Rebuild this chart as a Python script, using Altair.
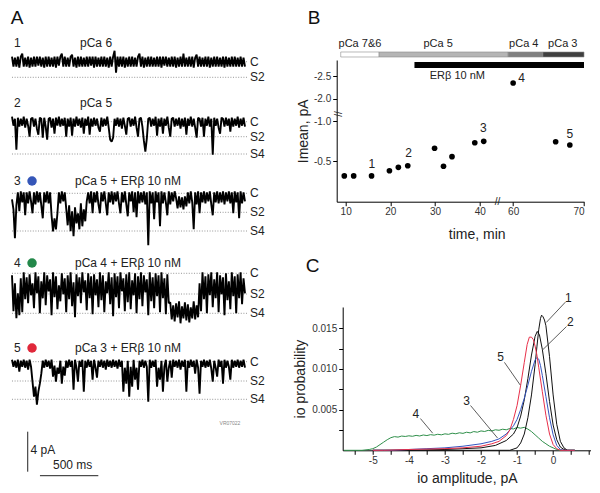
import altair as alt
import pandas as pd

FONT = "Liberation Sans"

# ============ Panel A: single-channel current traces (pA, C level = 0) ============
trace_dt_ms = 2000 / 159          # sampling interval of the displayed traces

trace1 = [
    0.5, -0.5, 0.4, -0.5, 0.5, -0.6, 0.5, 0.8, -0.5, 0.4, -0.5, 0.5, -0.6, 0.4, -0.5, 0.5, -0.5, 0.5, -0.4, 0.5,
    -0.5, 0.4, -0.6, 0.5, -0.5, 0.5, -0.5, 0.4, -0.5, 0.5, -0.6, 0.5, -0.4, 0.5, 0.8, -0.5, 0.5, -0.5, 0.4, -0.5,
    0.5, 0.7, -0.5, 0.4, -0.6, 0.5, -0.5, 0.5, -0.5, 0.4, -0.5, 0.5, -0.5, 0.5, -0.4, 0.5, -0.6, 0.5, -0.5, 0.4,
    -0.5, 0.5, -0.5, 0.5, -0.5, 0.4, -0.6, 0.5, -0.5, 0.5, 1.1, -1.1, 0.5, -0.5, 0.5, -0.5, 0.5, -0.6, 0.4, -0.5,
    0.5, -0.5, 0.5, -0.5, 0.4, -0.5, 0.5, 0.8, -0.5, 0.5, -0.6, 0.4, -0.5, 0.5, -0.5, 0.5, -0.5, 0.4, -0.5, 0.5,
    -0.5, 0.5, -0.6, 0.5, -0.4, 0.5, -0.5, 0.4, -0.5, 0.5, -0.5, 0.5, -0.6, 0.4, -0.5, 0.5, -0.5, 0.8, -0.5, 0.4,
    -0.5, 0.5, -0.5, 0.5, -0.6, 0.4, 0.7, -0.5, 0.5, -0.5, 0.4, -0.5, 0.5, -0.5, 0.5, -0.6, 0.4, -0.5, 0.5, -0.5,
    0.5, -0.5, 0.4, -0.5, 0.5, -0.6, 0.5, -0.5, 0.4, -0.5, 0.5, -0.5, 0.5, -0.5, 0.4, -0.5, 0.5, -0.5, 0.4, -0.5,
]
trace2 = [
    0.5, -0.4, 0.3, -2.8, 0.4, -0.5, 0.3, -0.4, 0.5, -0.6, 0.3, -0.4, -1.5, 0.3, 0.4, -0.5, 0.3, -0.7, -1.3, 0.4,
    0.3, -1.6, 0.4, -0.5, -1.8, 0.3, 0.4, -0.6, 0.3, -1.2, 0.4, -0.4, 0.5, -0.5, 0.3, -0.4, 0.4, -1.5, 0.3, -0.5,
    0.4, -1.4, 0.3, -0.5, 0.5, -0.4, 0.3, -0.6, 0.4, -1.2, 0.3, -0.4, 0.5, -1.3, 0.3, -0.5, 0.4, -0.4, 0.3, -0.6,
    -1.0, 0.4, -0.5, 0.3, -0.4, 0.5, -0.6, -1.8, -2.0, -1.6, 0.3, -0.4, 0.4, -0.5, 0.3, -0.7, 0.4, -0.4, -1.3, 0.3,
    0.4, -0.5, 0.3, -0.4, 0.5, -0.6, -1.5, 0.3, 0.4, -0.5, -1.9, -3.0, -1.7, 0.3, 0.4, -0.5, 0.3, -0.4, 0.5, -1.4,
    0.3, -0.5, 0.4, -1.2, 0.3, -0.4, 0.5, -0.6, -1.5, 0.3, 0.4, -0.5, 0.3, -0.4, 0.4, -0.7, 0.3, -0.5, 0.4, -1.3,
    0.3, -0.4, 0.5, -0.5, 0.3, -0.6, -1.6, 0.4, 0.3, -0.5, 0.4, -1.5, 0.3, -0.4, 0.5, -0.5, 0.3, -3.3, 0.4, -0.4,
    0.3, -0.6, -1.2, 0.4, 0.3, -0.5, 0.4, -0.4, 0.3, -1.0, 0.4, -0.5, 0.3, -0.4, 0.5, -0.6, 0.3, -0.4, 0.4, -0.5,
]
trace3 = [
    -0.6, -1.6, -4.5, -1.2, 0.1, -1.8, 0.2, -0.9, 0.1, -2.2, 0.1, -1.0, 0.2, -0.8, -2.0, 0.1, -1.1, 0.2, -0.9, 0.1,
    -1.2, -2.5, 0.1, -0.9, 0.2, -1.0, 0.1, -2.2, -3.8, -2.5, -3.6, -2.0, 0.1, -1.0, 0.2, -0.8, 0.1, -1.5, -3.2, -1.2,
    -3.8, -1.8, -4.3, -1.4, -3.0, -2.0, -3.6, -1.0, -3.3, -1.6, -2.8, -0.8, 0.1, -1.0, 0.2, -2.0, 0.1, -0.9, 0.2, -1.1,
    -2.0, 0.1, -0.8, 0.2, -1.0, -2.2, 0.1, -0.9, 0.2, -1.1, 0.1, -0.8, 0.2, -1.0, -2.0, 0.1, -0.9, 0.2, -1.1, -2.3,
    0.1, -0.8, 0.2, -1.9, 0.1, -2.4, 0.2, -1.0, 0.1, -0.9, 0.2, -1.1, 0.1, -5.2, 0.2, -1.0, 0.1, -2.6, 0.2, -0.9,
    0.1, -3.3, 0.2, -1.0, 0.1, -0.9, -2.2, 0.2, -1.1, 0.1, -0.8, 0.2, -0.5, -1.5, -0.3, -1.4, -0.4, -1.6, -0.3, -1.3,
    0.1, -1.0, 0.2, -0.9, -3.6, 0.1, -1.1, 0.2, -2.0, 0.1, -0.9, 0.2, -1.0, 0.1, -0.8, 0.2, -1.1, -2.2, 0.1, -0.9,
    0.2, -1.0, 0.1, -0.9, 0.2, -1.1, 0.1, -0.8, 0.2, -1.0, 0.1, -2.0, 0.2, -0.9, 0.1, -2.5, 0.2, -1.0, 0.1, -0.8,
]
trace4 = [
    -0.2, -3.8, -1.0, -4.5, -2.0, -4.2, -0.5, -3.9, 0.1, -2.6, -0.4, -3.0, -0.1, -2.2, -1.0, -3.5, 0.1, -2.0, -0.3, -4.0,
    -0.8, -2.5, 0.1, -3.2, -0.2, -1.8, -0.6, -4.2, 0.1, -2.4, -0.3, -3.6, -1.2, -2.8, 0.0, -2.1, -0.5, -3.9, -0.2, -2.6,
    0.1, -3.3, -0.9, -4.4, -0.1, -2.3, -0.4, -3.0, 0.1, -1.9, -0.7, -3.7, 0.0, -2.5, -0.3, -4.1, -0.1, -2.2, -0.6, -3.4,
    0.1, -2.7, -0.2, -3.9, -0.8, -2.0, 0.1, -3.1, -0.4, -4.3, 0.0, -2.4, -0.3, -3.5, 0.1, -1.8, -0.5, -3.8, -0.1, -2.9,
    0.1, -3.6, -0.7, -2.2, 0.0, -4.0, -0.3, -2.6, 0.1, -3.3, -0.2, -1.9, -0.6, -4.2, 0.1, -2.8, -0.4, -3.5, 0.0, -2.3,
    -0.2, -3.9, 0.1, -2.5, -0.5, -4.1, -0.1, -3.0, -2.9, -4.6, -3.2, -4.8, -3.0, -4.4, -2.8, -5.0, -3.3, -4.5, -2.9, -4.7,
    -3.1, -4.9, -3.4, -4.5, -2.8, -4.6, -3.2, -4.4, -1.0, -3.8, 0.1, -2.6, -0.3, -4.0, -0.1, -2.2, 0.1, -3.4, -0.6, -2.5,
    0.1, -3.9, -0.2, -2.1, -0.4, -4.2, 0.0, -2.7, -0.8, -3.6, 0.1, -2.3, -0.3, -4.0, -0.1, -2.5, 0.1, -3.1, -0.5, -2.0,
]
trace5 = [
    0.2, -0.5, 0.1, -0.6, 0.2, -1.0, 0.1, -0.5, 0.2, -0.6, 0.1, -0.8, 0.2, -0.5, -2.0, -3.5, -2.5, -4.3, -3.0, -2.2,
    -1.2, 0.1, -0.6, 0.2, -0.5, 0.1, -0.7, 0.2, -1.5, -0.4, -2.0, -0.6, -1.2, 0.1, -2.2, -0.5, -1.4, 0.1, -0.6, 0.2,
    -0.5, 0.1, -2.8, 0.2, -0.6, -2.0, 0.1, -0.5, 0.2, -3.0, 0.1, -0.6, 0.2, -0.5, 0.1, -1.8, 0.2, -0.6, -1.6, 0.1,
    -0.5, 0.2, -0.6, 0.1, -0.8, 0.2, -0.5, 0.1, -0.6, 0.2, -0.5, 0.1, -0.7, 0.2, -0.5, 0.1, -3.0, -0.6, -2.2, 0.1,
    -3.5, -0.5, -2.5, 0.2, -1.8, -0.6, -2.8, 0.1, -0.5, 0.2, -0.6, 0.1, -0.5, -4.0, 0.2, -0.6, 0.1, -0.5, 0.2, -2.5,
    -0.6, -1.8, 0.1, -3.0, -0.5, 0.2, -2.0, -0.6, 0.1, -1.6, 0.2, -0.5, 0.1, -0.6, 0.2, -0.8, 0.1, -0.5, 0.2, -3.0,
    0.1, -0.6, 0.2, -0.5, 0.1, -1.2, 0.2, -0.6, -3.2, 0.1, -0.5, 0.2, -0.6, 0.1, -0.5, 0.2, -0.7, -2.0, 0.1, -0.6,
    -1.5, 0.2, -0.5, 0.1, -2.2, 0.2, -0.6, 0.1, -0.5, -1.8, 0.2, -0.6, 0.1, -0.5, 0.2, -0.6, 0.1, -0.5, 0.2, -0.6,
]

# conductance levels (pA) per trace
level_names_1 = ["C", "S2"]
level_vals_1 = [0.0, -1.56]
level_names = ["C", "S2", "S4"]
level_vals_2 = [0.0, -1.5, -3.23]
level_vals_3 = [0.0, -1.9, -3.77]
level_vals_4 = [0.0, -2.07, -4.0]
level_vals_5 = [0.0, -1.93, -3.76]

trace_nums = ["1", "2", "3", "4", "5"]
trace_conds = ["pCa 6", "pCa 5", "pCa 5 + ER\u03b2  10 nM", "pCa 4 + ER\u03b2  10 nM", "pCa 3 + ER\u03b2  10 nM"]
trace_dots = [None, None, "#3556b8", "#23884a", "#e0283a"]

# ============ Panel B: Imean vs time ============
b_time = [9.7, 11.8, 15.8, 19.8, 21.8, 23.9, 29.9, 31.9, 33.8, 38.9, 40.9, 60.0, 66.0, 68.0]
b_imean = [-0.32, -0.32, -0.32, -0.384, -0.426, -0.446, -0.662, -0.439, -0.558, -0.731, -0.748, -2.349, -0.743, -0.703]
b_lab_text = ["1", "2", "3", "4", "5"]
b_lab_time = [15.85, 24.1, 40.8, 61.2, 68.0]
b_lab_imean = [-0.463, -0.607, -0.917, -2.45, -0.839]
pca_names = ["pCa 7&6", "pCa 5", "pCa 4", "pCa 3"]
pca_start = [8.9, 17.5, 59.3, 64.2]
pca_end = [17.5, 59.3, 64.2, 70.0]
pca_label_time = [13.2, 30.7, 61.5, 67.0]
pca_fill = ["#ffffff", "#b5b5b5", "#808080", "#3f3f3f"]
er_start, er_end = 25.4, 70.0

# ============ Panel C: amplitude histograms ============
c1_x = [-5.0, -1.2, -1.0, -0.9, -0.8, -0.7, -0.6, -0.5, -0.45, -0.4, -0.35, -0.32, -0.28, -0.24, -0.2, -0.1, 0.0, 0.1, 0.2, 0.3, 0.4, 0.6]
c1_y = [0, 0, 0.0003, 0.0009, 0.0020, 0.0040, 0.0068, 0.0105, 0.0127, 0.0148, 0.0162, 0.0166, 0.0164, 0.0160, 0.0153, 0.0115, 0.0068, 0.0032, 0.0011, 0.0003, 0.0, 0]
c2_x = [-5.0, -4.0, -3.0, -2.5, -2.0, -1.6, -1.3, -1.1, -1.0, -0.9, -0.8, -0.7, -0.6, -0.5, -0.44, -0.38, -0.3, -0.2, -0.1, 0.0, 0.1, 0.2, 0.3, 0.4, 0.6]
c2_y = [0, 0, 0.0001, 0.0002, 0.0003, 0.0006, 0.0012, 0.0020, 0.0028, 0.0042, 0.0062, 0.0088, 0.0117, 0.0140, 0.0146, 0.0142, 0.0124, 0.0094, 0.0060, 0.0031, 0.0013, 0.0004, 0.0001, 0, 0]
c3_x = [-5.0, -4.5, -4.0, -3.5, -3.0, -2.5, -2.0, -1.7, -1.5, -1.3, -1.1, -1.0, -0.9, -0.8, -0.7, -0.6, -0.5, -0.45, -0.4, -0.35, -0.3, -0.2, -0.1, 0.0, 0.1, 0.2, 0.3, 0.6]
c3_y = [0, 0, 0.0001, 0.0002, 0.0003, 0.0005, 0.0008, 0.0011, 0.0014, 0.0020, 0.0030, 0.0038, 0.0050, 0.0064, 0.0080, 0.0097, 0.0111, 0.0114, 0.0112, 0.0104, 0.0092, 0.0066, 0.0040, 0.0019, 0.0006, 0.0001, 0, 0]
c4_x = [-5.8, -5.3, -5.1, -5.0, -4.9, -4.8, -4.7, -4.6, -4.5, -4.4, -4.3, -4.2, -4.1, -4.0, -3.9, -3.8, -3.7, -3.6, -3.5,
        -3.4, -3.3, -3.2, -3.1, -3.0, -2.9, -2.8, -2.7, -2.6, -2.5, -2.4, -2.3, -2.2, -2.1, -2.0, -1.9, -1.8, -1.7,
        -1.6, -1.5, -1.4, -1.3, -1.2, -1.1, -1.0, -0.9, -0.8, -0.7, -0.6, -0.5, -0.4, -0.3, -0.2, -0.1, 0.0, 0.1, 0.2, 0.3, 0.6]
c4_y = [0, 0, 0.0001, 0.0002, 0.0004, 0.0007, 0.0010, 0.0013, 0.00155, 0.00168, 0.00162, 0.00175, 0.00170, 0.00178,
        0.00172, 0.00183, 0.00176, 0.00188, 0.00181, 0.00192, 0.00186, 0.00197, 0.00190, 0.00202, 0.00196, 0.00210,
        0.00203, 0.00215, 0.00208, 0.00222, 0.00214, 0.00230, 0.00222, 0.00238, 0.00231, 0.00245, 0.00238, 0.00252,
        0.00246, 0.00259, 0.00252, 0.00268, 0.00262, 0.00280, 0.00272, 0.00282, 0.0026, 0.0023, 0.0019, 0.0015,
        0.0011, 0.0008, 0.0005, 0.0003, 0.0001, 0.0, 0, 0]
c5_x = [-5.0, -4.7, -4.0, -3.0, -2.5, -2.0, -1.7, -1.5, -1.3, -1.2, -1.1, -1.0, -0.9, -0.8, -0.72, -0.66, -0.6, -0.55, -0.5, -0.45, -0.4, -0.3, -0.2, -0.1, 0.0, 0.1, 0.2, 0.6]
c5_y = [0, 0, 0.0001, 0.0002, 0.0003, 0.0005, 0.0008, 0.0011, 0.0018, 0.0025, 0.0038, 0.0055, 0.0080, 0.0108, 0.0130, 0.0139, 0.0139, 0.0136, 0.0128, 0.0117, 0.0102, 0.0072, 0.0043, 0.0020, 0.0007, 0.0002, 0, 0]
c_colors = {"1": "#111111", "2": "#111111", "3": "#3455c0", "4": "#2f8f4a", "5": "#e8304a"}
c_lab_text = ["1", "2", "5", "3", "4"]
c_lab_x = [0.42, 0.48, -1.46, -2.40, -3.81]
c_lab_y = [0.01868, 0.0157, 0.0114, 0.0061, 0.0045]
c_ptr_x = [0.34, 0.37, -1.35, -2.29, -3.68]
c_ptr_y = [0.0182, 0.0152, 0.0108, 0.0055, 0.0039]
c_ptr_x2 = [-0.19, -0.30, -0.91, -1.54, -3.34]
c_ptr_y2 = [0.0157, 0.0123, 0.0080, 0.0015, 0.0021]

# ================= building =================
A_XDOM = [-34.3, 2197.5]
A_W = 260
LETTER_SIZE = 19


def txt(**kw):
    base = dict(font=FONT, baseline="middle", color="#222")
    base.update(kw)
    return base


def trace_panel(vals, names, lvals, num, cond, cond_x, dot, head_y, ydom, height, extra=()):
    xs = alt.Scale(domain=A_XDOM, nice=False, zero=False)
    ys = alt.Scale(domain=ydom, nice=False, zero=False)

    def X(f):
        return alt.X(f, scale=xs, axis=None)

    def Y(f):
        return alt.Y(f, scale=ys, axis=None)

    n = len(names)
    lv = pd.DataFrame({"name": names, "y": lvals, "x": [0] * n, "x2": [2017] * n, "xl": [2043] * n})
    tr = pd.DataFrame({"x": [i * trace_dt_ms for i in range(len(vals))], "y": vals})
    layers = [
        alt.Chart(lv).mark_rule(color="#8a8a8a", strokeDash=[1, 1.6], strokeWidth=0.9).encode(
            x=X("x:Q"), x2="x2:Q", y=Y("y:Q")),
        alt.Chart(tr).mark_line(color="#000000", strokeWidth=1.9, strokeJoin="bevel").encode(
            x=X("x:Q"), y=Y("y:Q")),
        alt.Chart(lv).mark_text(**txt(align="left", fontSize=12)).encode(x=X("xl:Q"), y=Y("y:Q"), text="name:N"),
        alt.Chart(pd.DataFrame({"x": [17, cond_x], "y": [head_y, head_y], "t": [num, cond]})).mark_text(
            **txt(align="left", fontSize=12)).encode(x=X("x:Q"), y=Y("y:Q"), text="t:N"),
    ]
    if dot:
        layers.append(alt.Chart(pd.DataFrame({"x": [172], "y": [head_y]})).mark_point(
            filled=True, color=dot, size=90, opacity=1).encode(x=X("x:Q"), y=Y("y:Q")))
    for fn in extra:
        layers.append(fn(X, Y))
    return alt.layer(*layers).properties(width=A_W, height=height)


def letter_A(X, Y):
    return alt.Chart(pd.DataFrame({"x": [43], "y": [4.42], "t": ["A"]})).mark_text(
        **txt(align="center", fontSize=LETTER_SIZE, color="#111")).encode(x=X("x:Q"), y=Y("y:Q"), text="t:N")


def scale_bar_v(X, Y):
    return alt.Chart(pd.DataFrame({"x": [135], "y": [-7.0], "y2": [-11.0]})).mark_rule(
        color="#222", strokeWidth=1).encode(x=X("x:Q"), y=Y("y:Q"), y2="y2:Q")


def scale_bar_h(X, Y):
    return alt.Chart(pd.DataFrame({"x": [240], "x2": [741], "y": [-11.4]})).mark_rule(
        color="#222", strokeWidth=1).encode(x=X("x:Q"), x2="x2:Q", y=Y("y:Q"))


def scale_texts(X, Y):
    d = pd.DataFrame({"x": [159, 352], "y": [-8.83, -10.33], "t": ["4 pA", "500 ms"]})
    return alt.Chart(d).mark_text(**txt(align="left", fontSize=12)).encode(
        x=X("x:Q"), y=Y("y:Q"), text="t:N")


def vr_text(X, Y):
    return alt.Chart(pd.DataFrame({"x": [1871], "y": [-6.1], "t": ["VR07022"]})).mark_text(
        **txt(align="center", fontSize=5, color="#888")).encode(x=X("x:Q"), y=Y("y:Q"), text="t:N")


p1 = trace_panel(trace1, level_names_1, level_vals_1, trace_nums[0], trace_conds[0], 584, trace_dots[0],
                 1.87, [-2.03, 2.57], 46, extra=(letter_A,))
p2 = trace_panel(trace2, level_names, level_vals_2, trace_nums[1], trace_conds[1], 584, trace_dots[1],
                 1.87, [-3.83, 3.97], 78)
p3 = trace_panel(trace3, level_names, level_vals_3, trace_nums[2], trace_conds[2], 541, trace_dots[2],
                 1.23, [-4.67, 3.33], 80)
p4 = trace_panel(trace4, level_names, level_vals_4, trace_nums[3], trace_conds[3], 541, trace_dots[3],
                 1.03, [-4.87, 3.33], 82)
p5 = trace_panel(trace5, level_names, level_vals_5, trace_nums[4], trace_conds[4], 541, trace_dots[4],
                 1.37, [-12.33, 3.97], 163, extra=(scale_bar_v, scale_bar_h, scale_texts, vr_text))
panelA = alt.vconcat(p1, p2, p3, p4, p5, spacing=0, bounds="flush")

# ---- Panel B ----
BX = alt.Scale(domain=[8, 43.2, 57.3, 70], range=[0, 157.3, 157.3, 247.3], nice=False, zero=False)
BY = alt.Scale(domain=[0, -1.0, -2.0, -2.86], range=[141.7, 61, 38.7, 0], nice=False, zero=False)
B_XENC = alt.X("x:Q", scale=BX, axis=alt.Axis(values=[10, 20, 30, 40, 60, 70], title="time, min",
                                               titleX=140, labelPadding=1, titlePadding=11))
B_YENC = alt.Y("y:Q", scale=BY, axis=alt.Axis(values=[-0.5, -1.0, -2.0, -2.5], title="Imean, pA",
                                               labelExpr="replace(format(datum.value, '.1f'), '\u2212', '-')",
                                               titlePadding=3))

b_pts = alt.Chart(pd.DataFrame({"x": b_time, "y": b_imean})).mark_point(
    filled=True, color="#000", size=32, opacity=1).encode(x=B_XENC, y=B_YENC)
b_labs = alt.Chart(pd.DataFrame({"x": b_lab_time, "y": b_lab_imean, "t": b_lab_text})).mark_text(
    **txt(align="center", fontSize=12)).encode(x=B_XENC, y=B_YENC, text="t:N")
pca_df = pd.DataFrame({"x": pca_start, "x2": pca_end, "y": [-2.927] * 4, "y2": [-3.038] * 4, "f": pca_fill})
b_pca = alt.Chart(pca_df).mark_rect(stroke="#8a8a8a", strokeWidth=0.6).encode(
    x=B_XENC, x2="x2:Q", y=B_YENC, y2="y2:Q", color=alt.Color("f:N", scale=None))
b_pca_t = alt.Chart(pd.DataFrame({"x": pca_label_time, "y": [-3.216] * 4, "t": pca_names})).mark_text(
    **txt(align="center", fontSize=11)).encode(x=B_XENC, y=B_YENC, text="t:N")
b_er = alt.Chart(pd.DataFrame({"x": [er_start], "x2": [er_end], "y": [-2.816], "y2": [-2.682]})).mark_rect(
    color="#000").encode(x=B_XENC, x2="x2:Q", y=B_YENC, y2="y2:Q")
b_er_t = alt.Chart(pd.DataFrame({"x": [35.0], "y": [-2.504], "t": ["ER\u03b2 10 nM"]})).mark_text(
    **txt(align="center", fontSize=11)).encode(x=B_XENC, y=B_YENC, text="t:N")
b_brk = alt.Chart(pd.DataFrame({"x": [57.8, 8.0], "y": [0.0, -1.31], "t": ["//", "//"], "a": [0, 90]})).mark_text(
    **txt(align="center", fontSize=10)).encode(x=B_XENC, y=B_YENC, text="t:N",
                                               angle=alt.Angle("a:Q", scale=None))
b_letter = alt.Chart(pd.DataFrame({"x": [2.93], "y": [-3.804], "t": ["B"]})).mark_text(
    **txt(align="center", fontSize=LETTER_SIZE, color="#111")).encode(x=B_XENC, y=B_YENC, text="t:N")
panelB = alt.layer(b_pts, b_labs, b_pca, b_pca_t, b_er, b_er_t, b_brk, b_letter).properties(
    width=247.3, height=141.7)

# ---- Panel C ----
CX = alt.Scale(domain=[-5.835, 1.05], nice=False, zero=False)
CY = alt.Scale(domain=[0, 0.0176], nice=False, zero=False)
C_XENC = alt.X("x:Q", scale=CX, axis=alt.Axis(
    values=[-5.5, -5, -4.5, -4, -3.5, -3, -2.5, -2, -1.5, -1, -0.5, 0, 0.5, 1],
    labelExpr="datum.value % 1 == 0 && datum.value <= 0 ? '' + datum.value : ''",
    title="io amplitude, pA", labelPadding=1, titlePadding=6))
C_YENC = alt.Y("y:Q", scale=CY, axis=alt.Axis(
    values=[0.0025, 0.005, 0.0075, 0.01, 0.0125, 0.015],
    labelExpr="(datum.value * 1000) % 5 < 0.01 || (datum.value * 1000) % 5 > 4.99 ? format(datum.value, '.3f') : ''",
    title="io probability", titlePadding=4))


def curve(xs, ys, col):
    return alt.Chart(pd.DataFrame({"x": xs, "y": ys})).mark_line(color=col, strokeWidth=1.0).encode(
        x=C_XENC, y=C_YENC)


c_layers = [
    curve(c4_x, c4_y, c_colors["4"]),
    curve(c1_x, c1_y, c_colors["1"]),
    curve(c2_x, c2_y, c_colors["2"]),
    curve(c3_x, c3_y, c_colors["3"]),
    curve(c5_x, c5_y, c_colors["5"]),
    alt.Chart(pd.DataFrame({"x": c_ptr_x, "y": c_ptr_y, "x2": c_ptr_x2, "y2": c_ptr_y2})).mark_rule(
        color="#333", strokeWidth=0.8).encode(x=C_XENC, y=C_YENC, x2="x2:Q", y2="y2:Q"),
    alt.Chart(pd.DataFrame({"x": c_lab_x, "y": c_lab_y, "t": c_lab_text})).mark_text(
        **txt(align="center", fontSize=12)).encode(x=C_XENC, y=C_YENC, text="t:N"),
    alt.Chart(pd.DataFrame({"x": [-6.667], "y": [0.0226], "t": ["C"]})).mark_text(
        **txt(align="center", fontSize=LETTER_SIZE, color="#111")).encode(x=C_XENC, y=C_YENC, text="t:N"),
]
panelC = alt.layer(*c_layers).properties(width=248.3, height=143.3)


def spacer(w, h):
    return alt.Chart(pd.DataFrame({"v": [0]})).mark_point(opacity=0).encode(
        x=alt.X("v:Q", axis=None), y=alt.Y("v:Q", axis=None)).properties(width=w, height=h)


rowC = alt.hconcat(spacer(1, 143.3), panelC, spacing=5, bounds="flush")
right = alt.vconcat(spacer(1, 24), panelB, spacer(1, 105), rowC, spacing=0, bounds="flush")

chart = alt.hconcat(panelA, right, spacing=24.7).properties(padding=0).configure_axis(
    domainColor="#000", tickColor="#000", labelColor="#333", titleColor="#222",
    labelFont=FONT, titleFont=FONT, titleFontWeight="normal", grid=False,
    tickSize=4, labelFontSize=10, titleFontSize=14,
).configure_view(stroke=None)

chart.save("out.html", embed_options={"renderer": "svg", "actions": False})
